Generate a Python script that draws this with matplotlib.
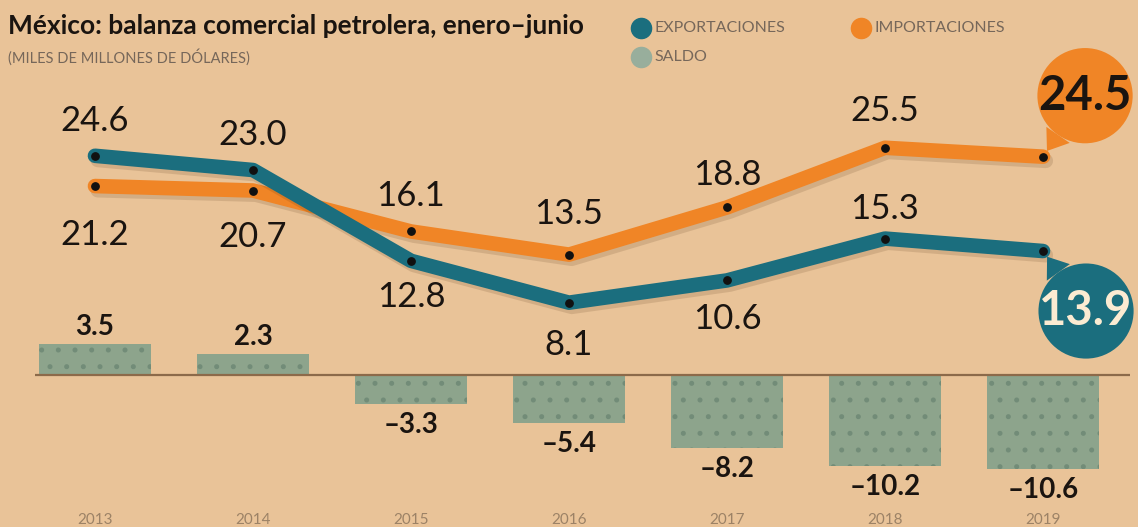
import matplotlib
matplotlib.use("Agg")
import matplotlib.pyplot as plt
import matplotlib.patheffects as pe

plt.rcParams['font.family'] = ['Lato', 'DejaVu Sans']
plt.rcParams['hatch.linewidth'] = 1.2

years = ["2013", "2014", "2015", "2016", "2017", "2018", "2019"]
exportaciones = [24.6, 23.0, 12.8, 8.1, 10.6, 15.3, 13.9]
importaciones = [21.2, 20.7, 16.1, 13.5, 18.8, 25.5, 24.5]
saldo = [3.5, 2.3, -3.3, -5.4, -8.2, -10.2, -10.6]

title = "México: balanza comercial petrolera, enero–junio"
subtitle = "(MILES DE MILLONES DE DÓLARES)"

BG = "#E9C398"
TEAL = "#1B6E7E"
ORANGE = "#F08526"
BAR = "#8DA48C"
DOT = "#728C78"
TXT = "#1A1410"
GRAY = "#9C8266"
LEGTXT = "#76675A"

# label offsets in pixels (x, y) relative to each point
exp_off = [(0, 35), (0, 35), (0, -36), (0, -42), (0, -39), (0, 30)]
imp_off = [(0, -49), (0, -46), (0, 35), (0, 41), (0, 32), (0, 37)]

fig = plt.figure(figsize=(11.38, 5.27), dpi=100)
fig.patch.set_facecolor(BG)
ax = fig.add_axes([0, 0, 1, 1])
ax.set_facecolor(BG)
ax.set_xlim(-0.601, 6.601)
ax.set_ylim(-17.1, 42.1)
ax.axis("off")

x = list(range(len(years)))

# saldo bars
ax.bar(x, saldo, width=0.71, color=BAR, edgecolor=DOT, linewidth=0,
       hatch=".", zorder=2)
ax.hlines(0, -0.38, 6.55, color="#8C6A4A", lw=1.6, zorder=3)

for xi, v in zip(x, saldo):
    off = 17 if v > 0 else -21
    ax.annotate(f"{v:.1f}".replace("-", "–"), (xi, v), xytext=(0, off),
                textcoords="offset pixels", ha="center", va="center",
                fontsize=20, fontweight="bold", color=TXT, zorder=6)

shadow = [pe.SimpleLineShadow(offset=(2, -3), alpha=0.14, shadow_color="#4a2a10"),
          pe.Normal()]
ax.plot(x, importaciones, color=ORANGE, lw=10.5, solid_capstyle="round",
        solid_joinstyle="round", path_effects=shadow, zorder=4)
ax.plot(x, exportaciones, color=TEAL, lw=10.5, solid_capstyle="round",
        solid_joinstyle="round", path_effects=shadow, zorder=4.5)
ax.scatter(x, importaciones, s=28, color="#111111", zorder=5)
ax.scatter(x, exportaciones, s=28, color="#111111", zorder=5)

for xi, v, o in zip(x[:-1], exportaciones[:-1], exp_off):
    ax.annotate(f"{v:.1f}", (xi, v), xytext=o, textcoords="offset pixels",
                ha="center", va="center", fontsize=25, color=TXT, zorder=6)
for xi, v, o in zip(x[:-1], importaciones[:-1], imp_off):
    ax.annotate(f"{v:.1f}", (xi, v), xytext=o, textcoords="offset pixels",
                ha="center", va="center", fontsize=25, color=TXT, zorder=6)

# bubbles for last values
ax.annotate(f"{importaciones[-1]:.1f}", (x[-1], importaciones[-1]), xytext=(42, 61),
            textcoords="offset pixels", ha="center", va="center",
            fontsize=34, fontweight="bold", color=TXT, zorder=7,
            bbox=dict(boxstyle="circle,pad=0.02", fc=ORANGE, ec="none"),
            arrowprops=dict(arrowstyle="wedge,tail_width=0.6", fc=ORANGE, ec="none",
                            shrinkA=0, shrinkB=5))
ax.annotate(f"{exportaciones[-1]:.1f}", (x[-1], exportaciones[-1]), xytext=(43, -60),
            textcoords="offset pixels", ha="center", va="center",
            fontsize=34, fontweight="bold", color="#FBEBD2", zorder=7,
            bbox=dict(boxstyle="circle,pad=0.02", fc=TEAL, ec="none"),
            arrowprops=dict(arrowstyle="wedge,tail_width=0.6", fc=TEAL, ec="none",
                            shrinkA=0, shrinkB=5))

# year labels
for xi, y in zip(x, years):
    ax.text(xi, -16.3, y, ha="center", va="center", fontsize=11,
            color=GRAY)

# title
fig.text(0.007, 0.950, title, ha="left", va="center", fontsize=19,
         fontweight="bold", color=TXT)
fig.text(0.007, 0.891, subtitle, ha="left", va="center", fontsize=10.5,
         color=LEGTXT)

# legend
leg = [("EXPORTACIONES", TEAL, 641, 28), ("IMPORTACIONES", ORANGE, 861, 28),
       ("SALDO", "#98AE9C", 641, 57)]
for lab, col, px, py in leg:
    ax.plot([px / 1138], [1 - py / 527], "o", ms=14.5, color=col,
            transform=ax.transAxes, clip_on=False)
    ax.text((px + 13) / 1138, 1 - py / 527, lab, transform=ax.transAxes,
            ha="left", va="center", fontsize=11.5, color=LEGTXT)

fig.savefig("out.png", dpi=100, facecolor=BG)
